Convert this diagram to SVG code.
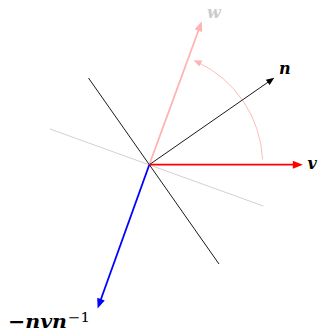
<svg xmlns="http://www.w3.org/2000/svg" width="321" height="331" viewBox="0 0 321 331">
<style>
.lbl{font-family:"DejaVu Serif","Liberation Serif",serif;font-weight:bold;font-style:italic;font-size:16px;fill:#000}
.sup{font-family:"DejaVu Serif","Liberation Serif",serif;font-size:13px;fill:#000}
.thin{stroke-width:0.9;fill:none}
.thick{stroke-width:1.8;fill:none}
</style>
<defs>
<marker id="ahRed" markerUnits="userSpaceOnUse" markerWidth="20" markerHeight="20" refX="0" refY="0" orient="auto" overflow="visible"><path d="M5,0 L-5,-4 L-5,4 Z" fill="#ff0000"/></marker>
<marker id="ahBlue" markerUnits="userSpaceOnUse" markerWidth="20" markerHeight="20" refX="0" refY="0" orient="auto" overflow="visible"><path d="M5,0 L-5,-4 L-5,4 Z" fill="#0000ff"/></marker>
<marker id="ahPink" markerUnits="userSpaceOnUse" markerWidth="20" markerHeight="20" refX="0" refY="0" orient="auto" overflow="visible"><path d="M5,0 L-5,-4 L-5,4 Z" fill="#ffb3b3"/></marker>
<marker id="ahBlack" markerUnits="userSpaceOnUse" markerWidth="20" markerHeight="20" refX="0" refY="0" orient="auto" overflow="visible"><path d="M4,0 L-4,-3.3 L-4,3.3 Z" fill="#000"/></marker>
<marker id="ahArc" markerUnits="userSpaceOnUse" markerWidth="20" markerHeight="20" refX="0" refY="0" orient="auto" overflow="visible"><path d="M4,0 L-4,-3.3 L-4,3.3 Z" fill="#ffb3b3"/></marker>
</defs>
<g id="connectors">
<line id="plane-w" x1="50" y1="129" x2="263.3" y2="206" stroke="#cccccc" class="thin"/>
<line id="plane-n" x1="88.5" y1="78" x2="219" y2="264" stroke="#000" class="thin"/>
<path id="arc" d="M262.6,159.4 A113.4,113.4 0 0 0 197.2,61.9" stroke="#ffb3b3" class="thin" marker-end="url(#ahArc)"/>
<line id="vec-w" x1="149.3" y1="164.7" x2="200.1" y2="26.0" stroke="#ffb3b3" class="thick" marker-end="url(#ahPink)"/>
<line id="vec-n" x1="149.3" y1="164.7" x2="271.0" y2="80.1" stroke="#000" class="thin" marker-end="url(#ahBlack)"/>
<line id="vec-v" x1="149.3" y1="164.7" x2="297.8" y2="164.7" stroke="#ff0000" class="thick" marker-end="url(#ahRed)"/>
<line id="vec-r" x1="149.3" y1="164.7" x2="99.3" y2="303.8" stroke="#0000ff" class="thick" marker-end="url(#ahBlue)"/>
</g>
<g id="label-w"><text class="lbl" x="207" y="18" style="fill:#cccccc">w</text></g>
<g id="label-n"><text class="lbl" x="279" y="74">n</text></g>
<g id="label-v"><text class="lbl" x="307.5" y="169">v</text></g>
<g id="label-r"><text class="lbl" x="8" y="328" style="font-size:19px" textLength="59" lengthAdjust="spacingAndGlyphs">−nvn</text><text class="sup" x="68" y="322" textLength="22" lengthAdjust="spacingAndGlyphs">−1</text></g>
</svg>
